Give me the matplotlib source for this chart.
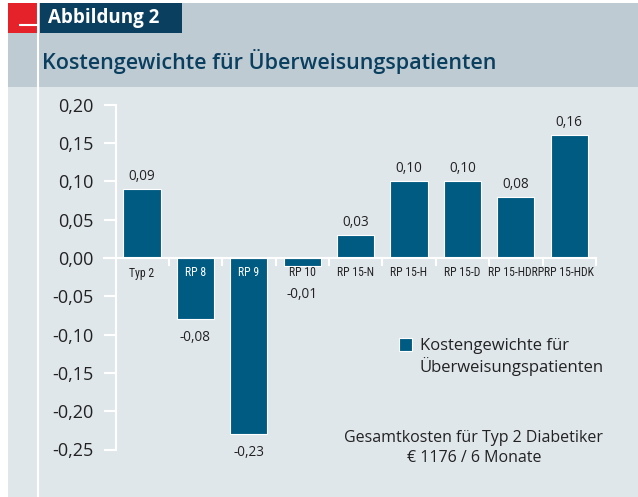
import matplotlib
matplotlib.use("Agg")
import matplotlib.pyplot as plt
from matplotlib.patches import Rectangle
from matplotlib.lines import Line2D
from matplotlib.ticker import FuncFormatter

categories = ["Typ 2", "RP 8", "RP 9", "RP 10", "RP 15-N", "RP 15-H", "RP 15-D", "RP 15-HDRP", "RP 15-HDK"]
values = [0.09, -0.08, -0.23, -0.01, 0.03, 0.10, 0.10, 0.08, 0.16]
yticks = [0.20, 0.15, 0.10, 0.05, 0.00, -0.05, -0.10, -0.15, -0.20, -0.25]
title = "Kostengewichte für Überweisungspatienten"
badge = "Abbildung 2"
legend_label = "Kostengewichte für\nÜberweisungspatienten"
note = "Gesamtkosten für Typ 2 Diabetiker\n€ 1176 / 6 Monate"

FONT = "Open Sans"
W, H = 638, 497
BG = "#e0e7eb"
HEAD = "#bfcbd3"
BAR = "#005b82"
NAVY = "#0a3f5f"
RED = "#e52229"
TXT = "#222222"

plt.rcParams["font.family"] = [FONT, "DejaVu Sans"]

fig = plt.figure(figsize=(W / 100, H / 100), dpi=100)
fig.patch.set_facecolor("white")

def px(x, y):
    return x / W, 1 - y / H

def rect(x0, y0, x1, y1, color, z=-10):
    fx, fy = px(x0, y1)
    fig.patches.append(Rectangle((fx, fy), (x1 - x0) / W, (y1 - y0) / H,
                                 transform=fig.transFigure, color=color, zorder=z, lw=0))

def line(x0, y0, x1, y1, color="white", lw=1.5, z=-5):
    a = px(x0, y0); b = px(x1, y1)
    fig.lines.append(Line2D([a[0], b[0]], [a[1], b[1]], transform=fig.transFigure,
                            color=color, lw=lw, zorder=z))

rect(8, 3, W, H, BG, -10)
rect(8, 3, W, 87, HEAD, -9)
rect(8, 3, 37, 33, RED, -8)
rect(40, 3, 182, 33, NAVY, -8)
line(38, 3, 38, H)
line(20, 25, 37, 25)
fig.text(*px(48, 18), badge, color="white", fontsize=13.5, fontweight="bold", va="center", ha="left")
fig.text(*px(42, 61), title, color=NAVY, fontsize=15.5, fontweight="semibold", va="center", ha="left")

# axes
ax_left, ax_right, ax_top, ax_bot = 116, 596, 95, 470
ax = fig.add_axes([ax_left / W, 1 - ax_bot / H, (ax_right - ax_left) / W, (ax_bot - ax_top) / H])
ax.set_zorder(5)
ax.set_facecolor("none")
y0px = 258
scale = 766.0
ax.set_ylim(-(ax_bot - y0px) / scale, (y0px - ax_top) / scale)
spacing = 53.4
ax.set_xlim(-(142 - ax_left) / spacing, (ax_right - 142) / spacing)

x = list(range(len(categories)))
bars = ax.bar(x, values, width=0.7, color=BAR, edgecolor="white", linewidth=0.8, zorder=3)

for s in ["top", "right", "bottom"]:
    ax.spines[s].set_visible(False)
ax.spines["left"].set_color("white")
ax.spines["left"].set_linewidth(1.5)
ax.spines["left"].set_bounds(-0.25, 0.20)

ax.set_yticks(yticks)
ax.yaxis.set_major_formatter(FuncFormatter(lambda v, p: f"{v:.2f}".replace(".", ",").replace("-0,00", "0,00")))
ax.tick_params(axis="y", direction="out", length=9, width=1.5, color="white", pad=7,
               labelsize=13, labelcolor=TXT)
ax.set_xticks([])

# x axis line at zero with boundary ticks
ax.plot([-12 / (ax_right - ax_left), 1], [0, 0], transform=ax.get_yaxis_transform(),
        color="white", lw=1.5, clip_on=False, zorder=4)
for i in range(len(categories)):
    ax.plot([i + 0.5] * 2, [0, -7 / scale], color="white", lw=1.5, clip_on=False, zorder=4)

for i, (c, v) in enumerate(zip(categories, values)):
    col = "white" if v < -0.03 else TXT
    ax.annotate(c, xy=(i, 0), xytext=(0, -15), textcoords="offset pixels",
                ha="center", va="center", fontsize=8.5, color=col, zorder=5,
                family=["Liberation Sans Narrow", "Roboto Condensed", "Roboto", "DejaVu Sans"])
    lab = f"{v:.2f}".replace(".", ",")
    if v >= 0:
        ax.annotate(lab, xy=(i, v), xytext=(0, 5), textcoords="offset pixels",
                    ha="center", va="bottom", fontsize=9.8, color=TXT)
    else:
        ax.annotate(lab, xy=(i, min(v, -0.024)), xytext=(0, -11), textcoords="offset pixels",
                    ha="center", va="top", fontsize=9.8, color=TXT)

leg = ax.legend([bars], [legend_label], loc="upper left", bbox_to_anchor=px(399, 338),
                bbox_transform=fig.transFigure, frameon=False, fontsize=12,
                handlelength=0.8, handleheight=0.8, handletextpad=0.45, labelspacing=0,
                borderpad=0, borderaxespad=0)
for t in leg.get_texts():
    t.set_color(TXT)
    t.set_linespacing(1.2)
try:
    for col in leg._legend_handle_box.get_children():
        for row in col.get_children():
            row.align = "top"
except Exception:
    pass

fig.text(*px(474, 448), note, ha="center", va="center", fontsize=11.5, color=TXT, linespacing=1.35)

fig.savefig("out.png", dpi=100, facecolor=fig.get_facecolor())
